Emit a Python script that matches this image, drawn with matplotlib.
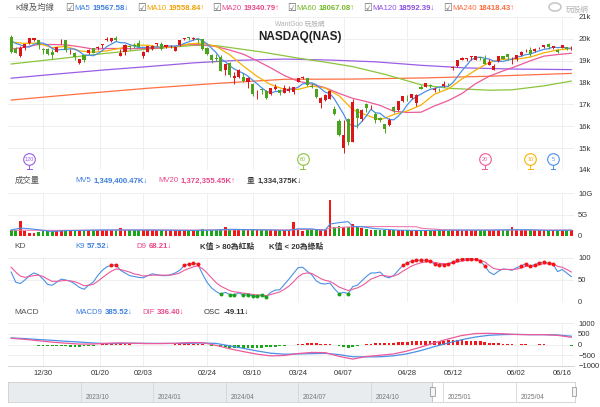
import numpy as np
import matplotlib
matplotlib.use("Agg")
from matplotlib import pyplot as plt
from matplotlib.patches import Rectangle, Circle

plt.rcParams['font.family'] = ['Liberation Sans', 'Noto Sans CJK TC', 'DejaVu Sans']

# ---- daily candles 2024/12/18 .. 2025/06/18 ----
opens = [20106, 19557, 19235, 19592, 19799, 19956, 19950,
         19520, 19545, 19403, 19395, 19851, 19938, 19469, 19361, 18903, 19248, 19337, 19566, 19569,
         19740, 19925, 19911, 20058, 19234, 19418, 19694, 19738, 19832,
         19215, 19406, 19528, 19751, 19766, 19626, 19613, 19436, 19704, 19983, 20074, 19975, 20016, 19975,
         19603, 19284, 19108, 19191, 18572,
         18909, 18217, 18274, 18268, 18040, 17924, 17418, 17714, 17613, 17468, 17694, 17662, 17534, 17595, 17551,
         18036, 18226, 18211, 17838, 17708, 17044,
         17215, 17263, 16776, 16224, 15000, 16315, 15287, 16793, 16326, 17035, 16817, 16549, 16400,
         16109, 16073, 16876, 16728, 17163, 17402, 17303, 17079,
         17787, 17818, 17873, 17639, 17748, 17845, 17956,
         18652, 18764, 19044, 19056, 19153, 19026, 19161, 19064, 18816, 18591,
         18981, 19201, 19323, 19111,
         19067, 19262, 19441, 19501, 19463, 19579, 19632, 19756, 19561, 19488, 19581, 19625, 19523]
highs = [20156, 19620, 19655, 19774, 20031, 20060, 19961,
         19588, 19571, 19517, 19638, 20007, 19951, 19525, 19381, 19093, 19256, 19548, 19571, 19655,
         19781, 20068, 20054, 20118, 19541, 19760, 19739, 19796, 19969,
         19464, 19665, 19699, 19794, 19862, 19723, 19736, 19684, 19958, 20046, 20082, 20072, 20017, 19989,
         19632, 19293, 19308, 19271, 18872,
         18960, 18473, 18608, 18418, 18272, 17964, 17675, 17727, 17661, 17773, 17934, 17695, 17870, 17837, 17804,
         18200, 18288, 18227, 17982, 17713, 17352,
         17482, 17655, 16947, 16314, 16292, 16369, 17238, 16828, 16780, 17062, 16992, 16639, 16417,
         16120, 16386, 16935, 17171, 17383, 17429, 17469, 17464,
         17892, 18000, 17934, 17778, 17774, 18077, 17991,
         18736, 19038, 19154, 19131, 19211, 19225, 19192, 19261, 19084, 18857,
         19207, 19226, 19330, 19172,
         19260, 19426, 19520, 19630, 19563, 19628, 19735, 19793, 19673, 19556, 19731, 19648, 19673]
lows = [19369, 19358, 19180, 19483, 19782, 19894, 19555,
        19300, 19276, 19100, 19379, 19785, 19421, 19328, 19036, 18831, 18962, 19305, 19334, 19499,
        19596, 19911, 19856, 19913, 19204, 19268, 19486, 19563, 19606,
        19141, 19393, 19486, 19653, 19475, 19596, 19595, 19424, 19657, 19929, 19957, 19930, 19799, 19494,
        19272, 18893, 18978, 18541, 18346,
        18255, 17956, 18188, 18007, 17768, 17395, 17238, 17470, 17238, 17441, 17661, 17421, 17505, 17582, 17488,
        18010, 18171, 17831, 17732, 17306, 16855,
        17136, 17240, 16529, 15575, 14784, 15127, 15280, 15900, 16227, 16638, 16770, 16166, 16183,
        15708, 16010, 16593, 16704, 17098, 17166, 17259, 16911,
        17685, 17781, 17764, 17591, 17595, 17788, 17855,
        18560, 18729, 19011, 18972, 19052, 19010, 19048, 18840, 18808, 18569,
        18941, 19058, 19039, 18855,
        18991, 19216, 19420, 19238, 19421, 19525, 19560, 19547, 19545, 19346, 19573, 19500, 19491]
closes = [19393, 19372, 19573, 19764, 20031, 20020, 19722,
          19487, 19311, 19280, 19622, 19865, 19490, 19479, 19162, 19088, 19044, 19511, 19339, 19630,
          19757, 20009, 20054, 19954, 19342, 19734, 19632, 19681, 19627,
          19392, 19654, 19692, 19791, 19523, 19714, 19643, 19649, 19945, 20026, 20041, 20056, 19962, 19524,
          19287, 19026, 19075, 18544, 18847,
          18350, 18285, 18553, 18070, 18196, 17468, 17436, 17648, 17303, 17754, 17808, 17504, 17751, 17692, 17784,
          18189, 18271, 17900, 17804, 17323, 17299,
          17449, 17601, 16551, 15588, 15603, 15268, 17125, 16387, 16724, 16832, 16823, 16307, 16287,
          15870, 16300, 16708, 17166, 17383, 17366, 17461, 17446,
          17710, 17978, 17844, 17690, 17738, 17929, 17929,
          18708, 19010, 19146, 19112, 19211, 19215, 19143, 18872, 18925, 18737,
          19199, 19101, 19175, 19114,
          19243, 19399, 19460, 19298, 19530, 19591, 19715, 19615, 19662, 19407, 19701, 19521, 19546]

# moving averages
ma5 = [19901, 19795, 19724, 19642, 19627, 19752, 19822, 19805, 19714, 19564,
       19484, 19513, 19514, 19547, 19524, 19417, 19253, 19257, 19229, 19322,
       19456, 19649, 19758, 19881, 19823, 19819, 19743, 19669, 19603, 19613,
       19597, 19609, 19631, 19610, 19675, 19673, 19664, 19695, 19795, 19861,
       19943, 20006, 19922, 19774, 19571, 19375, 19091, 18956, 18768, 18620,
       18516, 18421, 18291, 18114, 17945, 17764, 17610, 17522, 17590, 17603,
       17624, 17702, 17708, 17784, 17937, 17967, 17990, 17897, 17719, 17555,
       17495, 17245, 16898, 16558, 16122, 16027, 15994, 16221, 16467, 16778,
       16615, 16595, 16424, 16317, 16294, 16466, 16685, 16985, 17217, 17364,
       17473, 17592, 17688, 17734, 17792, 17836, 17826, 17999, 18263, 18544,
       18781, 19037, 19139, 19165, 19111, 19073, 18978, 18975, 18967, 19027,
       19065, 19166, 19206, 19278, 19303, 19386, 19456, 19519, 19550, 19623,
       19598, 19620, 19581, 19567.58]
ma_grid = list(range(0, 124, 3))
ma10 = [19852, 19793, 19808, 19595, 19659, 19451, 19388, 19451, 19573, 19713,
        19708, 19607, 19637, 19768, 19808, 19659, 19271, 18756, 18282, 17906,
        17694, 17687, 17846, 17746, 17398, 16761, 16513, 16294, 16536, 16704,
        16970, 17475, 17709, 18168, 18569, 18927, 19066, 19072, 19165, 19363,
        19492, 19558.84]
ma20 = [19530, 19618, 19742, 19741, 19725, 19639, 19533, 19559, 19558, 19549,
        19572, 19581, 19666, 19743, 19729, 19647, 19487, 19296, 18999, 18673,
        18320, 18064, 17931, 17760, 17506, 17278, 17132, 16956, 16687, 16632,
        16645, 16934, 17175, 17499, 17952, 18291, 18532, 18752, 18996, 19210,
        19281, 19340.79]
ma60_idx = [0, 10, 20, 30, 40, 45, 55, 63, 70, 75, 82, 90, 96, 105, 110, 117, 123]
ma60 = [18850, 19080, 19320, 19530, 19700, 19690, 19400, 19120, 18900, 18730, 18380,
        17900, 17740, 17650, 17670, 17850, 18067.08]
ma120_idx = [0, 10, 20, 30, 40, 50, 60, 70, 80, 90, 100, 110, 123]
ma120 = [18200, 18390, 18570, 18730, 18900, 19020, 19075, 19030, 18950, 18790, 18670, 18620, 18592.39]
ma240_idx = [0, 15, 30, 45, 60, 75, 90, 105, 123]
ma240 = [17200, 17480, 17740, 17960, 18150, 18160, 18210, 18290, 18418.43]
ma_periods = [120, 60, 20, 10, 5]

# volume (G)
vol = [1.5, 1.5, 3.6, 1.2, 0.7, 0.8, 1.0, 1.1, 1.1, 1.2, 1.2, 1.3, 1.4, 1.3, 1.4, 1.3, 1.3, 1.4, 1.4, 1.5,
       1.4, 1.4, 1.3, 1.4, 1.8, 1.5, 1.3, 1.4, 1.5, 1.4, 1.3, 1.3, 1.3, 1.4, 1.3, 1.3, 1.3, 1.3, 1.3, 1.3,
       1.3, 1.3, 1.6, 1.4, 1.4, 1.3, 1.6, 2.0, 1.5, 1.5, 1.5, 1.5, 1.4, 1.6, 1.5, 1.4, 1.4, 1.3, 1.3, 1.3,
       1.3, 1.3, 3.2, 1.3, 1.2, 1.3, 1.3, 1.4, 1.5, 1.4, 8.3, 2.0, 2.3, 2.1, 2.0, 2.7, 2.2, 1.8, 1.6, 1.4,
       1.5, 1.4, 1.3, 1.4, 1.4, 1.3, 1.3, 1.3, 1.2, 1.3, 1.3, 1.3, 1.2, 1.2, 1.3, 1.3, 1.2, 1.5, 1.4, 1.4,
       1.4, 1.5, 1.3, 1.3, 1.4, 1.3, 1.3, 1.3, 1.3, 1.4, 2.0, 1.3, 1.3, 1.3, 1.3, 1.3, 1.3, 1.3, 1.3, 1.3,
       1.3, 1.3, 1.3, 1.33]
mv5_idx = [0, 2, 4, 6, 9, 12, 20, 30, 40, 45, 48, 52, 58, 61, 63, 66, 68, 69, 70, 72,
           74, 75, 77, 80, 85, 90, 100, 105, 110, 114, 118, 123]
mv5 = [1.40, 1.84, 1.70, 1.46, 1.04, 1.24, 1.40, 1.38, 1.30, 1.40, 1.56, 1.48, 1.38, 1.30, 1.68, 1.66,
       1.34, 1.38, 2.78, 3.10, 3.34, 2.22, 2.16, 1.70, 1.36, 1.28, 1.38, 1.36, 1.46, 1.44, 1.30, 1.35]
mv20_idx = [0, 10, 20, 30, 40, 47, 50, 60, 62, 69, 70, 75, 82, 89, 90, 95, 100, 110, 123]
mv20 = [1.35, 1.30, 1.36, 1.42, 1.36, 1.42, 1.45, 1.40, 1.50, 1.50, 1.85, 2.15, 2.20, 2.15, 1.80,
        1.45, 1.36, 1.40, 1.37]

# KD
k9 = [68, 45, 42, 50, 60, 66, 62, 52, 40, 38, 45, 52, 50, 47, 41, 33, 29, 38, 45, 60,
      72, 80, 83, 85, 72, 66, 60, 58, 56, 55, 60, 64, 62, 60, 60, 62, 66, 72, 83, 86,
      88, 86, 64, 45, 32, 24, 18, 22, 17, 16, 21, 15, 17, 14, 13, 15, 12, 22, 27, 28,
      40, 52, 65, 78, 79, 70, 62, 48, 42, 41, 43, 30, 19, 22, 19, 35, 38, 48, 58, 66,
      66, 68, 58, 55, 60, 72, 83, 89, 93, 95, 95, 95, 93, 86, 84, 85, 87, 91, 95, 97,
      98, 98, 97, 93, 82, 68, 62, 70, 75, 74, 72, 78, 82, 87, 82, 85, 89, 91, 88, 86,
      69, 74, 66, 57.52]
d9 = [79, 68, 59, 56, 58, 60, 61, 58, 52, 47, 47, 48, 49, 48, 46, 42, 37, 38, 40, 47,
      55, 63, 70, 75, 74, 71, 68, 64, 62, 59, 60, 61, 61, 61, 61, 61, 63, 66, 72, 76,
      80, 82, 76, 66, 55, 44, 36, 31, 26, 23, 22, 20, 19, 17, 16, 16, 14, 17, 20, 23,
      29, 36, 46, 57, 64, 66, 65, 59, 53, 49, 47, 41, 34, 30, 26, 29, 32, 37, 44, 52,
      56, 60, 60, 58, 59, 63, 70, 76, 82, 86, 89, 91, 92, 90, 88, 87, 87, 88, 91, 93,
      95, 96, 96, 95, 91, 83, 76, 74, 74, 74, 74, 75, 77, 81, 81, 82, 85, 87, 87, 87,
      81, 79, 74, 68.21]

# MACD
dif = [290, 240, 175, 110, 60, 20, 20, 60, 75, 55, 40, 45, 55, 90, 90, -40, -200, -330, -450, -530,
       -510, -420, -370, -380, -550, -680, -560, -500, -440, -300, -120, 80, 260, 420, 510, 520,
       500, 465, 455, 460, 425, 336.40]
macd9 = [305, 275, 230, 195, 150, 115, 70, 40, 50, 60, 55, 50, 50, 55, 70, 50, -60, -180, -300, -405,
         -450, -440, -425, -410, -470, -570, -575, -570, -525, -430, -280, -95, 70, 225, 350, 430,
         460, 470, 460, 455, 445, 385.52]
osc = [-15, -20, -25, -35, -40, -45, -55, -65, -75, -85, -90, -90, -90, -95, -100, -95, -85, -70, -50, -25,
       5, 20, 30, 30, 25, 15, 5, -5, -15, -20, -15, -5, 0, -5, -5, 0, 5, 15, 25, 35,
       40, 35, 20, -20, -60, -90, -120, -130, -140, -150, -150, -150, -140, -150, -150, -140, -135, -125, -110, -90,
       -60, -30, -5, 20, 45, 55, 55, 50, 40, 30, 25, -10, -60, -110, -150, -100, -60, -20, 15, 40,
       60, 70, 70, 75, 85, 100, 115, 130, 140, 150, 160, 170, 175, 175, 180, 185, 190, 200, 200, 195,
       185, 175, 160, 140, 115, 90, 70, 55, 40, 25, 10, -5, 5, 5, -5, 0, 5, 5, 0, -10,
       -20, -30, -40, -49.11]

date_pos = [7, 19.5, 29, 43, 53, 63, 73, 87, 97, 111, 121]
date_lab = ['12/30', '01/20', '02/03', '02/24', '03/10', '03/24', '04/07', '04/28', '05/12', '06/02', '06/16']

# navigator (months since 2023/01)
nav_ticks = [9, 12, 15, 18, 21, 24, 27]
nav_labels = ['2023/10', '2024/01', '2024/04', '2024/07', '2024/10', '2025/01', '2025/04']
nav_range = (6.0, 29.45)
nav_window = 23.55

RED = '#dc1518'
GREEN = '#4ca41e'
BLUE = '#4a90e8'
ORANGE = '#f7b100'
PINK = '#ec5a9a'
LIME = '#8cc43c'
PURPLE = '#9b5de5'
CORAL = '#ff7043'

W, H = 600, 407
fig = plt.figure(figsize=(6, 4.07), dpi=100)
renderer = fig.canvas.get_renderer()


def box(x0, y0, x1, y1):
    return fig.add_axes([x0 / W, 1 - y1 / H, (x1 - x0) / W, (y1 - y0) / H])


def ftxt(xp, yp, s, **kw):
    return fig.text(xp / W, 1 - yp / H, s, va='center', ha='left', **kw)


def chain(xp, yp, parts, gap=2.5):
    # parts: (text, colour, bold) drawn one after another
    for s, tc, bold in parts:
        t = ftxt(xp, yp, s, fontsize=5.6, color=tc, fontweight='bold' if bold else 'normal')
        xp = t.get_window_extent(renderer).x1 + gap


ax = box(8, 17, 574, 170)
axv = box(8, 193, 574, 236)
axk = box(8, 258, 574, 302)
axm = box(8, 323, 574, 366)
axn = box(8, 382, 575, 402)

for a in (ax, axv, axk, axm):
    a.set_xlim(-0.7, 123.6)
    for s in a.spines.values():
        s.set_visible(False)
    a.yaxis.tick_right()
    a.tick_params(axis='y', length=0, labelsize=5.5, colors='#333333', pad=3)
    a.tick_params(axis='x', length=0)
    a.set_xticks(date_pos)
    a.set_xticklabels([])
    a.grid(True, color='#ececec', lw=0.6)
    a.set_axisbelow(True)

x = np.arange(len(closes))
o = np.array(opens)
c = np.array(closes)
hi = np.array(highs)
lo = np.array(lows)
up = c >= o
col = np.where(up, RED, GREEN)

# price panel
ax.plot(ma240_idx, ma240, color=CORAL, lw=0.9, zorder=2)
ax.plot(ma120_idx, ma120, color=PURPLE, lw=0.9, zorder=2)
ax.plot(ma60_idx, ma60, color=LIME, lw=0.9, zorder=2)
ax.plot(ma_grid, ma20, color=PINK, lw=0.9, zorder=2)
ax.plot(ma_grid, ma10, color=ORANGE, lw=0.9, zorder=2)
ax.plot(x, ma5, color=BLUE, lw=0.9, zorder=2)
ax.vlines(x, lo, hi, colors=col, lw=0.7, zorder=3)
ax.bar(x, np.maximum(np.abs(c - o), 15), bottom=np.minimum(o, c), width=0.68,
       color=col, lw=0, zorder=4)
ax.set_ylim(14000, 21000)
ax.set_yticks(range(14000, 21001, 1000))
ax.set_yticklabels(['14k', '15k', '16k', '17k', '18k', '19k', '20k', '21k'])
ax.text(63.5, 20100, 'NASDAQ(NAS)', ha='center', va='center', fontsize=8.5,
        fontweight='bold', color='#222222', zorder=8)
fig.text(300 / W, 1 - 24 / H, 'WantGoo 玩股網', ha='center', va='center', fontsize=4.8, color='#b0b0b0')

for p, pc in zip(ma_periods, [PURPLE, LIME, PINK, ORANGE, BLUE]):
    xi = len(closes) - p
    ax.plot([xi, xi], [14000, 14240], color=pc, lw=0.7, zorder=5)
    ax.plot([xi - 0.5, xi + 0.5], [14030, 14030], color=pc, lw=0.7, zorder=5)
    ax.scatter([xi], [14500], s=70, facecolor='white', edgecolor=pc, lw=0.8, zorder=6)
    ax.text(xi, 14500, str(p), color=pc, fontsize=4, ha='center', va='center', zorder=7)

# volume panel
vcol = np.where(up, '#f01818', '#19a619')
axv.bar(x, vol, width=0.62, color=vcol, lw=0, zorder=2)
axv.plot(mv20_idx, mv20, color='#f07aae', lw=0.8, zorder=3)
axv.plot(mv5_idx, mv5, color=BLUE, lw=0.8, zorder=3)
axv.set_ylim(0, 10)
axv.set_yticks([0, 5, 10])
axv.set_yticklabels(['0', '5G', '10G'])

# KD panel
kk = np.array(k9)
axk.plot(x, k9, color=BLUE, lw=0.8, zorder=2)
axk.plot(x, d9, color=PINK, lw=0.8, zorder=2)
axk.scatter(x[kk > 80], kk[kk > 80], s=8, color='#ff1010', lw=0, zorder=4)
axk.scatter(x[kk < 20], kk[kk < 20], s=8, color='#17a317', lw=0, zorder=4)
axk.set_ylim(0, 100)
axk.set_yticks([0, 50, 100])

# MACD panel
oo = np.array(osc)
axm.bar(x, oo, width=0.6, color=np.where(oo >= 0, '#f01818', '#19a619'), lw=0, zorder=2)
axm.plot(ma_grid, macd9, color=BLUE, lw=0.9, zorder=3)
axm.plot(ma_grid, dif, color=PINK, lw=0.9, zorder=3)
axm.set_ylim(-1000, 1000)
axm.set_yticks([-1000, -500, 0, 500, 1000])
axm.spines['bottom'].set_visible(True)
axm.spines['bottom'].set_color('#cccccc')
axm.spines['bottom'].set_linewidth(0.6)
axm.set_xticklabels(date_lab, fontsize=5.5, color='#333333')
axm.tick_params(axis='x', pad=3)

# navigator
axn.set_xlim(*nav_range)
axn.set_ylim(0, 1)
axn.axvspan(nav_range[0], nav_window, color='#e9ecef', lw=0, zorder=0)
for q, lab in zip(nav_ticks, nav_labels):
    axn.axvline(q, color='#d2d6db', lw=0.6, zorder=1)
    axn.text(q + 0.2, 0.22, lab, fontsize=4.8, color='#777777', va='center', ha='left')
axn.set_xticks([])
axn.set_yticks([])
for s in axn.spines.values():
    s.set_color('#d0d0d0')
    s.set_linewidth(0.6)
axn.axvline(nav_window, color='#b8b8b8', lw=0.6)
for hx in (nav_window, nav_range[1] - 0.05):
    axn.add_patch(Rectangle((hx - 0.09, 0.3), 0.18, 0.45, facecolor='#f5f5f5',
                            edgecolor='#888888', lw=0.5, zorder=5, clip_on=False))

# headers
ftxt(15, 8, 'K線及均線', fontsize=6, color='#555555')
legend_items = [(65, 'MA5', '19567.58↓', '#3d7fe0'),
                (137, 'MA10', '19558.84↑', '#f0a000'),
                (212, 'MA20', '19340.79↑', '#e8488a'),
                (287, 'MA60', '18067.08↑', '#76b82a'),
                (363, 'MA120', '18592.39↓', '#8a4fe0'),
                (443, 'MA240', '18418.43↑', '#ff6a3d')]
for bx, name, val, tc in legend_items:
    ftxt(bx, 8, '☑', fontsize=7, color='#666666', family='DejaVu Sans')
    chain(bx + 9, 8, [(name, tc, False), (val, tc, True)])

ftxt(15, 181, '成交量', fontsize=6, color='#555555')
chain(75, 181, [('MV5', '#3d7fe0', False), ('1,349,400.47K↓', '#3d7fe0', True)])
chain(158, 181, [('MV20', '#e8488a', False), ('1,372,355.45K↑', '#e8488a', True)])
chain(247, 181, [('量', '#333333', False), ('1,334,375K↓', '#333333', True)])

ftxt(14, 247, 'KD', fontsize=6, color='#555555')
chain(75, 247, [('K9', '#3d7fe0', False), ('57.52↓', '#3d7fe0', True)])
chain(136, 247, [('D9', '#e8488a', False), ('68.21↓', '#e8488a', True)])
chain(200, 247, [('K值 > 80為紅點', '#333333', True)])
chain(269, 247, [('K值 < 20為綠點', '#333333', True)])

ftxt(14, 313, 'MACD', fontsize=6, color='#555555')
chain(75, 313, [('MACD9', '#3d7fe0', False), ('385.52↓', '#3d7fe0', True)])
chain(142, 313, [('DIF', '#e8488a', False), ('336.40↓', '#e8488a', True)])
chain(204, 313, [('OSC', '#333333', False), ('-49.11↓', '#333333', True)])

# logo
fig.patches.append(Circle((555 / W, 1 - 7 / H), 6 / W, transform=fig.transFigure,
                          facecolor='white', edgecolor='#c8c8c8', lw=1.2))
ftxt(566, 10, '玩股網', fontsize=5.5, color='#b5b5b5')

fig.savefig('out.png', dpi=100)
